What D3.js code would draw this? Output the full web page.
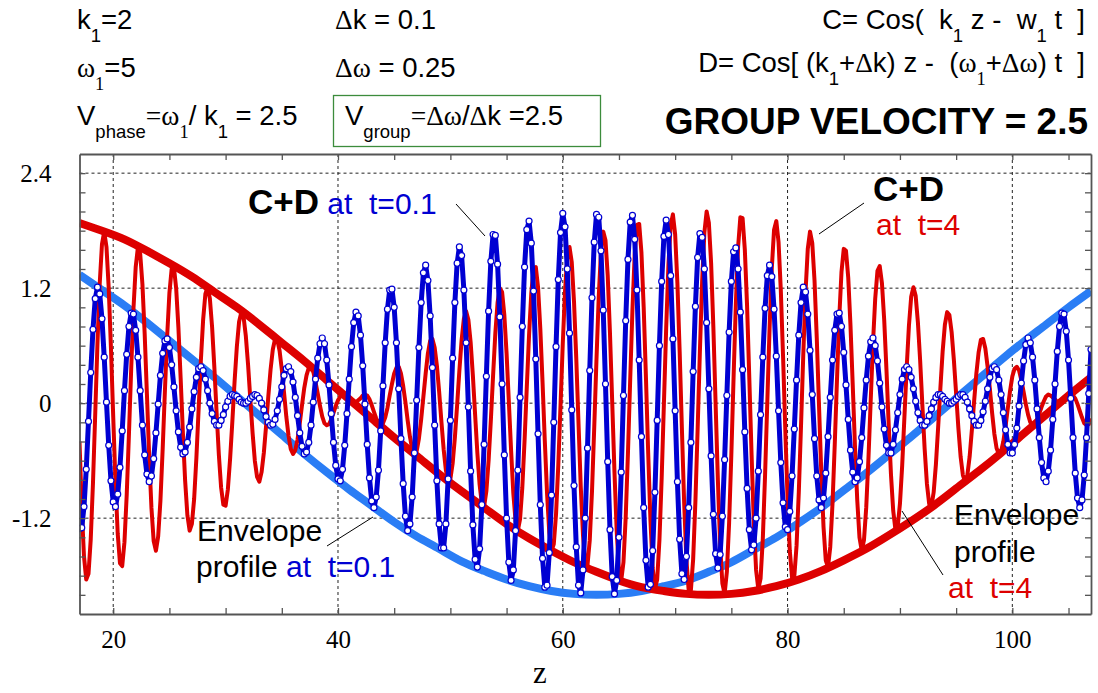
<!DOCTYPE html>
<html><head><meta charset="utf-8">
<script src="https://cdn.jsdelivr.net/npm/d3@7"></script>
<style>
html,body{margin:0;padding:0;background:#fff}
svg text{white-space:pre}
</style>
</head><body>
<svg id="chart" width="1098" height="693"></svg>
<script>
// Sample grid along z for the two superposed waves
const zMin = 17, zMax = 107, zStep = 0.2, envStep = 2;

// C+D at t = 0.1
const waveT01 = [
-1.31,-1.30,-1.08,-0.69,-0.19,0.32,0.77,1.09,1.21,1.14,0.88,0.48,0.01,-0.44,-0.81,-1.03,-1.08,-0.95,-0.67,-0.29,0.13,0.51,0.80,0.94,0.93,
0.76,0.48,0.13,-0.23,-0.54,-0.74,-0.82,-0.76,-0.58,-0.31,-0.01,0.29,0.52,0.65,0.67,0.58,0.40,0.17,-0.08,-0.30,-0.46,-0.53,-0.51,-0.41,-0.25,
-0.06,0.12,0.27,0.36,0.38,0.34,0.25,0.13,0.00,-0.11,-0.19,-0.23,-0.23,-0.18,-0.12,-0.04,0.02,0.07,0.09,0.08,0.07,0.04,0.01,0.00,0.00,
0.02,0.05,0.07,0.09,0.08,0.05,0.00,-0.07,-0.14,-0.20,-0.23,-0.22,-0.17,-0.08,0.04,0.17,0.29,0.36,0.38,0.33,0.22,0.06,-0.13,-0.31,-0.45,
-0.53,-0.51,-0.41,-0.23,0.01,0.25,0.47,0.62,0.68,0.62,0.45,0.19,-0.11,-0.41,-0.65,-0.79,-0.81,-0.69,-0.44,-0.11,0.25,0.59,0.84,0.95,0.91,
0.71,0.39,-0.01,-0.43,-0.78,-1.02,-1.09,-0.98,-0.70,-0.29,0.18,0.63,0.98,1.18,1.19,1.00,0.63,0.15,-0.37,-0.84,-1.18,-1.33,-1.26,-0.98,-0.52,
0.03,0.58,1.05,1.36,1.44,1.28,0.91,0.37,-0.23,-0.81,-1.26,-1.51,-1.51,-1.26,-0.79,-0.18,0.47,1.05,1.46,1.63,1.54,1.18,0.63,-0.04,-0.71,
-1.27,-1.63,-1.71,-1.52,-1.06,-0.43,0.28,0.96,1.48,1.76,1.75,1.45,0.90,0.20,-0.54,-1.20,-1.66,-1.85,-1.74,-1.33,-0.70,0.06,0.80,1.42,1.81,
1.90,1.67,1.17,0.46,-0.32,-1.06,-1.62,-1.92,-1.90,-1.56,-0.96,-0.20,0.59,1.29,1.78,1.98,1.84,1.40,0.73,-0.07,-0.86,-1.50,-1.90,-1.98,-1.74,
-1.20,-0.47,0.34,1.10,1.68,1.97,1.94,1.59,0.97,0.20,-0.61,-1.32,-1.81,-1.99,-1.85,-1.40,-0.72,0.08,0.86,1.50,1.89,1.96,1.71,1.18,0.45,
-0.35,-1.09,-1.64,-1.92,-1.89,-1.54,-0.93,-0.18,0.60,1.27,1.74,1.91,1.76,1.33,0.67,-0.08,-0.82,-1.42,-1.78,-1.84,-1.60,-1.09,-0.41,0.33,1.01,
1.52,1.77,1.73,1.40,0.84,0.15,-0.55,-1.16,-1.57,-1.72,-1.58,-1.18,-0.59,0.08,0.74,1.27,1.58,1.62,1.40,0.95,0.35,-0.30,-0.89,-1.32,-1.53,
-1.48,-1.20,-0.71,-0.12,0.48,0.99,1.33,1.44,1.32,0.98,0.49,-0.08,-0.62,-1.04,-1.29,-1.32,-1.13,-0.76,-0.27,0.24,0.71,1.05,1.21,1.16,0.93,
0.55,0.09,-0.37,-0.76,-1.01,-1.09,-0.99,-0.73,-0.35,0.06,0.45,0.76,0.93,0.94,0.80,0.53,0.19,-0.17,-0.49,-0.72,-0.82,-0.78,-0.61,-0.36,-0.05,
0.24,0.49,0.64,0.68,0.60,0.44,0.21,-0.04,-0.27,-0.44,-0.52,-0.52,-0.43,-0.28,-0.10,0.09,0.25,0.35,0.38,0.35,0.27,0.15,0.02,-0.10,-0.18,
-0.23,-0.23,-0.19,-0.13,-0.06,0.01,0.06,0.09,0.09,0.07,0.04,0.02,0.00,0.00,0.02,0.04,0.07,0.09,0.09,0.06,0.01,-0.06,-0.13,-0.19,-0.23,
-0.23,-0.18,-0.09,0.02,0.15,0.27,0.36,0.38,0.35,0.24,0.09,-0.10,-0.28,-0.43,-0.52,-0.52,-0.43,-0.26,-0.03,0.21,0.44,0.61,0.68,0.63,0.48,
0.24,-0.06,-0.36,-0.62,-0.78,-0.82,-0.71,-0.49,-0.17,0.20,0.54,0.80,0.94,0.93,0.75,0.45,0.05,-0.36,-0.73,-0.99,-1.09,-1.01,-0.75,-0.36,0.10,
0.56
];

// C+D at t = 4
const waveT4 = [
-0.40,-1.09,-1.60,-1.84,-1.78,-1.42,-0.83,-0.11,0.63,1.25,1.66,1.79,1.63,1.20,0.57,-0.14,-0.82,-1.36,-1.67,-1.70,-1.45,-0.96,-0.32,0.36,0.98,
1.42,1.63,1.56,1.24,0.72,0.09,-0.55,-1.09,-1.44,-1.54,-1.39,-1.02,-0.48,0.13,0.70,1.15,1.40,1.42,1.20,0.79,0.26,-0.31,-0.81,-1.17,-1.33,
-1.26,-1.00,-0.57,-0.06,0.45,0.87,1.14,1.21,1.09,0.79,0.37,-0.10,-0.54,-0.88,-1.06,-1.07,-0.90,-0.58,-0.19,0.23,0.59,0.85,0.95,0.90,0.70,
0.40,0.04,-0.31,-0.60,-0.77,-0.82,-0.72,-0.52,-0.24,0.07,0.35,0.56,0.67,0.66,0.55,0.35,0.11,-0.14,-0.34,-0.48,-0.53,-0.49,-0.38,-0.21,-0.02,
0.16,0.29,0.37,0.38,0.33,0.22,0.10,-0.03,-0.14,-0.21,-0.23,-0.22,-0.17,-0.10,-0.03,0.03,0.07,0.09,0.08,0.06,0.03,0.01,0.00,0.01,0.03,
0.05,0.08,0.09,0.08,0.04,-0.02,-0.09,-0.16,-0.21,-0.23,-0.21,-0.15,-0.05,0.08,0.20,0.31,0.37,0.38,0.31,0.18,0.01,-0.18,-0.35,-0.48,-0.53,
-0.50,-0.37,-0.17,0.07,0.31,0.52,0.65,0.67,0.58,0.39,0.12,-0.19,-0.48,-0.70,-0.81,-0.79,-0.63,-0.36,-0.02,0.34,0.66,0.88,0.96,0.87,0.64,
0.29,-0.12,-0.52,-0.85,-1.05,-1.08,-0.92,-0.60,-0.18,0.29,0.73,1.05,1.20,1.16,0.92,0.52,0.02,-0.49,-0.94,-1.23,-1.33,-1.21,-0.88,-0.39,0.17,
0.71,1.15,1.40,1.42,1.21,0.78,0.22,-0.39,-0.94,-1.35,-1.54,-1.47,-1.16,-0.65,-0.02,0.62,1.17,1.53,1.63,1.47,1.06,0.47,-0.21,-0.87,-1.38,
-1.67,-1.69,-1.43,-0.92,-0.25,0.46,1.11,1.58,1.79,1.70,1.33,0.73,0.01,-0.72,-1.34,-1.74,-1.85,-1.66,-1.19,-0.52,0.25,0.98,1.55,1.86,1.87,
1.57,1.00,0.27,-0.52,-1.22,-1.72,-1.94,-1.84,-1.43,-0.78,0.00,0.78,1.44,1.86,1.97,1.76,1.25,0.54,-0.27,-1.04,-1.63,-1.95,-1.95,-1.63,-1.03,
-0.27,0.54,1.27,1.78,2.00,1.88,1.46,0.79,-0.01,-0.80,-1.47,-1.88,-1.99,-1.76,-1.25,-0.53,0.28,1.04,1.63,1.94,1.93,1.60,1.01,0.25,-0.54,
-1.25,-1.74,-1.94,-1.83,-1.41,-0.75,0.02,0.78,1.41,1.81,1.90,1.68,1.18,0.49,-0.28,-0.99,-1.54,-1.82,-1.81,-1.49,-0.93,-0.23,0.51,1.16,1.61,
1.79,1.67,1.28,0.68,-0.03,-0.72,-1.29,-1.64,-1.71,-1.50,-1.05,-0.43,0.25,0.89,1.37,1.61,1.59,1.31,0.81,0.19,-0.45,-1.01,-1.40,-1.54,-1.43,
-1.09,-0.57,0.03,0.62,1.09,1.38,1.43,1.25,0.87,0.35,-0.22,-0.74,-1.12,-1.32,-1.29,-1.05,-0.65,-0.14,0.37,0.81,1.11,1.21,1.12,0.84,0.44,
-0.03,-0.48,-0.84,-1.05,-1.08,-0.93,-0.64,-0.25,0.16,0.54,0.82,0.95,0.92,0.74,0.45,0.10,-0.26,-0.56,-0.75,-0.82,-0.75,-0.56,-0.28,0.02,0.31,
0.53,0.66,0.67,0.57,0.38,0.15,-0.10,-0.32,-0.47,-0.53,-0.50,-0.40,-0.24,-0.05,0.13,0.28,0.36,0.38,0.34,0.24,0.12,-0.01,-0.12,-0.20,-0.23,
-0.22,-0.18,-0.11,-0.04,0.02,0.07,0.09,0.08,0.06,0.04,0.01,0.00,0.00,0.02,0.05,0.08,0.09,0.08,0.05,-0.01,-0.08,-0.15,-0.21,-0.23,-0.22,
-0.16
];

// Envelope profiles, sampled every 2 units of z
const envT01 = [1.34,1.18,1.02,0.84,0.65,0.46,0.27,0.07,-0.13,-0.33,-0.53,-0.72,-0.90,-1.07,-1.24,-1.39,-1.52,-1.65,-1.75,-1.84,-1.91,-1.96,-1.99,-2.00,-1.99,
-1.96,-1.91,-1.85,-1.76,-1.66,-1.53,-1.40,-1.25,-1.09,-0.91,-0.73,-0.54,-0.35,-0.15,0.05,0.25,0.45,0.64,0.82,1.00,1.17];
const envT4 = [1.88,1.80,1.71,1.59,1.46,1.32,1.16,1.00,0.82,0.63,0.44,0.24,0.04,-0.16,-0.36,-0.55,-0.74,-0.92,-1.09,-1.26,-1.41,-1.54,-1.66,-1.76,-1.85,
-1.92,-1.96,-1.99,-2.00,-1.99,-1.96,-1.91,-1.84,-1.75,-1.64,-1.52,-1.38,-1.23,-1.07,-0.89,-0.71,-0.52,-0.32,-0.12,0.08,0.27];

// Axis ticks
const xLabelTicks = [20, 40, 60, 80, 100];
const xMinorTicks = [20, 25, 30, 35, 40, 45, 50, 55, 60, 65, 70, 75, 80, 85, 90, 95, 100, 105];
const yLabelTicks = [-1.2, 0, 1.2, 2.4];
const yLabelText = ["-1.2", "0", "1.2", "2.4"];
const yMinorTicks = [-2.0,-1.8,-1.6,-1.4,-1.2,-1.0,-0.8,-0.6,-0.4,-0.2,0,0.2,0.4,0.6,0.8,1.0,1.2,1.4,1.6,1.8,2.0,2.2,2.4];

const plot = {left: 79.5, right: 1091, top: 154, bottom: 614};
const BLUE = "#0000d2", LIGHTBLUE = "#2a7df5", RED = "#dd0000", GREEN = "#3c8c3c";
const SANS = "'Liberation Sans', Arial, sans-serif";
const SERIF = "'Liberation Serif', 'Times New Roman', serif";

const svg = d3.select("#chart");
const x = d3.scaleLinear().domain([zMin, zMax]).range([plot.left, plot.right]);
const y = d3.scaleLinear().domain([-2.2, 2.6]).range([plot.bottom, plot.top]);

const zWave = d3.range(waveT01.length).map(i => zMin + i * zStep);
const zEnv = d3.range(envT01.length).map(i => zMin + i * envStep);
const blueData = waveT01.map((v, i) => [zWave[i], v]);
const redData = waveT4.map((v, i) => [zWave[i], v]);
const blueEnv = envT01.map((v, i) => [zEnv[i], v]);
const redEnv = envT4.map((v, i) => [zEnv[i], v]);

svg.append("defs").append("clipPath").attr("id", "plotClip")
  .append("rect").attr("x", plot.left).attr("y", plot.top)
  .attr("width", plot.right - plot.left).attr("height", plot.bottom - plot.top);

// Dashed grid
const grid = svg.append("g").attr("stroke", "#222").attr("stroke-width", 1).attr("stroke-dasharray", "3,3");
grid.selectAll("line.v").data(xLabelTicks).join("line").attr("class", "v")
  .attr("x1", d => x(d)).attr("x2", d => x(d)).attr("y1", plot.top).attr("y2", plot.bottom);
grid.selectAll("line.h").data(yLabelTicks).join("line").attr("class", "h")
  .attr("y1", d => y(d)).attr("y2", d => y(d)).attr("x1", plot.left).attr("x2", plot.right);

// Curves
const curves = svg.append("g").attr("clip-path", "url(#plotClip)");
const waveLine = d3.line().x(d => x(d[0])).y(d => y(d[1]));
const envLine = d3.line().x(d => x(d[0])).y(d => y(d[1])).curve(d3.curveNatural);

curves.append("path").datum(blueEnv).attr("d", envLine)
  .attr("fill", "none").attr("stroke", LIGHTBLUE).attr("stroke-width", 8);
curves.append("path").datum(redData).attr("d", waveLine)
  .attr("fill", "none").attr("stroke", RED).attr("stroke-width", 4).attr("stroke-linejoin", "round");
curves.append("path").datum(redEnv).attr("d", envLine)
  .attr("fill", "none").attr("stroke", RED).attr("stroke-width", 8);
curves.append("path").datum(blueData).attr("d", waveLine)
  .attr("fill", "none").attr("stroke", BLUE).attr("stroke-width", 5).attr("stroke-linejoin", "round");
curves.append("g").selectAll("circle").data(blueData).join("circle")
  .attr("cx", d => x(d[0])).attr("cy", d => y(d[1])).attr("r", 3)
  .attr("fill", "#fff").attr("stroke", BLUE).attr("stroke-width", 1.2);

// Frame with inward ticks
function styleAxis(g) {
  g.select(".domain").attr("stroke", "#555").attr("stroke-width", 1.8);
  g.selectAll(".tick line").attr("stroke", "#555").attr("stroke-width", 1.3);
}
const fmtX = d => xLabelTicks.includes(d) ? String(d) : "";
svg.append("g").attr("transform", `translate(0,${plot.bottom})`)
  .call(d3.axisBottom(x).tickValues(xMinorTicks).tickSizeInner(-6).tickSizeOuter(0).tickPadding(16).tickFormat(fmtX))
  .call(styleAxis)
  .call(g => g.selectAll("text").attr("font-family", SERIF).attr("font-size", 25).attr("fill", "#000"));
svg.append("g").attr("transform", `translate(0,${plot.top})`)
  .call(d3.axisTop(x).tickValues(xMinorTicks).tickSizeInner(-6).tickSizeOuter(0).tickFormat(""))
  .call(styleAxis);
svg.append("g").attr("transform", `translate(${plot.left},0)`)
  .call(d3.axisLeft(y).tickValues(yMinorTicks).tickSizeInner(-6).tickSizeOuter(0).tickPadding(28)
    .tickFormat(d => { const k = yLabelTicks.findIndex(v => Math.abs(v - d) < 1e-9); return k >= 0 ? yLabelText[k] : ""; }))
  .call(styleAxis)
  .call(g => g.selectAll("text").attr("font-family", SERIF).attr("font-size", 25).attr("fill", "#000"));
svg.append("g").attr("transform", `translate(${plot.right},0)`)
  .call(d3.axisRight(y).tickValues(yMinorTicks).tickSizeInner(-6).tickSizeOuter(0).tickFormat(""))
  .call(styleAxis);

svg.append("text").attr("x", 540).attr("y", 683).attr("text-anchor", "middle")
  .attr("font-family", SERIF).attr("font-size", 31).text("z");

// Text with subscripts and mixed fonts
function rich(px, py, anchor, base, parts) {
  const t = svg.append("text").attr("x", px).attr("y", py).attr("text-anchor", anchor)
    .attr("font-family", base.family || SANS).attr("font-size", base.size)
    .attr("font-weight", base.weight || "normal").attr("fill", base.fill || "#000");
  const shift = base.subShift || Math.round(base.size * 0.45);
  let down = false;
  parts.forEach(p => {
    const s = t.append("tspan").text(p.t);
    if (p.sub && !down) { s.attr("dy", shift); down = true; }
    else if (!p.sub && down) { s.attr("dy", -shift); down = false; }
    if (p.sub) s.attr("font-size", base.subSize || base.size * 0.66);
    if (p.serif) s.attr("font-family", SERIF);
    if (p.size) s.attr("font-size", p.size);
    if (p.weight) s.attr("font-weight", p.weight);
    if (p.fill) s.attr("fill", p.fill);
  });
  return t;
}

const headStyle = {size: 27.5, subSize: 18.5, subShift: 13};
rich(77, 29, "start", headStyle, [{t: "k"}, {t: "1", sub: true}, {t: "=2"}]);
rich(77, 77, "start", headStyle, [{t: "ω", serif: true}, {t: "1", sub: true, serif: true}, {t: "=5"}]);
rich(77, 125, "start", headStyle, [{t: "V"}, {t: "phase", sub: true}, {t: "=ω", serif: true}, {t: "1", sub: true, serif: true},
  {t: "/ k"}, {t: "1", sub: true}, {t: " = 2.5"}]);
rich(335, 29, "start", headStyle, [{t: "Δ", serif: true}, {t: "k = 0.1"}]);
rich(335, 77, "start", headStyle, [{t: "Δω", serif: true}, {t: " = 0.25"}]);
svg.append("rect").attr("x", 333.5).attr("y", 95.5).attr("width", 267).attr("height", 51)
  .attr("fill", "none").attr("stroke", GREEN).attr("stroke-width", 1.3);
rich(345, 125, "start", headStyle, [{t: "V"}, {t: "group", sub: true}, {t: "=Δω", serif: true}, {t: "/"}, {t: "Δ", serif: true}, {t: "k =2.5"}]);

rich(1085, 29, "end", headStyle, [{t: "C= Cos(  k"}, {t: "1", sub: true}, {t: " z -  w"}, {t: "1", sub: true}, {t: " t  ]"}]);
rich(1085, 72, "end", headStyle, [{t: "D= Cos[ (k"}, {t: "1", sub: true}, {t: "+"}, {t: "Δ", serif: true}, {t: "k) z -  ("},
  {t: "ω", serif: true}, {t: "1", sub: true, serif: true}, {t: "+"}, {t: "Δω", serif: true}, {t: ") t  ]"}]);
rich(1088, 134, "end", {size: 37, weight: "bold"}, [{t: "GROUP VELOCITY = 2.5"}]);

// Curve annotations
const ann = {size: 30};
rich(248, 214, "start", ann, [{t: "C+D", weight: "bold", size: 35}, {t: " at  t=0.1", fill: BLUE}]);
rich(873, 201, "start", ann, [{t: "C+D", weight: "bold", size: 35}]);
rich(876, 235, "start", ann, [{t: "at  t=4", fill: RED}]);
rich(197, 541, "start", ann, [{t: "Envelope"}]);
rich(196, 577, "start", ann, [{t: "profile"}, {t: " at  t=0.1", fill: BLUE}]);
rich(954, 525, "start", ann, [{t: "Envelope"}]);
rich(954, 562, "start", ann, [{t: "profile"}]);
rich(948, 598, "start", ann, [{t: "at  t=4", fill: RED}]);

const leaders = [[456, 204, 485, 236], [864, 203, 819, 234], [327, 546, 373, 517], [943, 575, 902, 511]];
svg.append("g").attr("stroke", "#000").attr("stroke-width", 1)
  .selectAll("line").data(leaders).join("line")
  .attr("x1", d => d[0]).attr("y1", d => d[1]).attr("x2", d => d[2]).attr("y2", d => d[3]);
</script>
</body></html>
